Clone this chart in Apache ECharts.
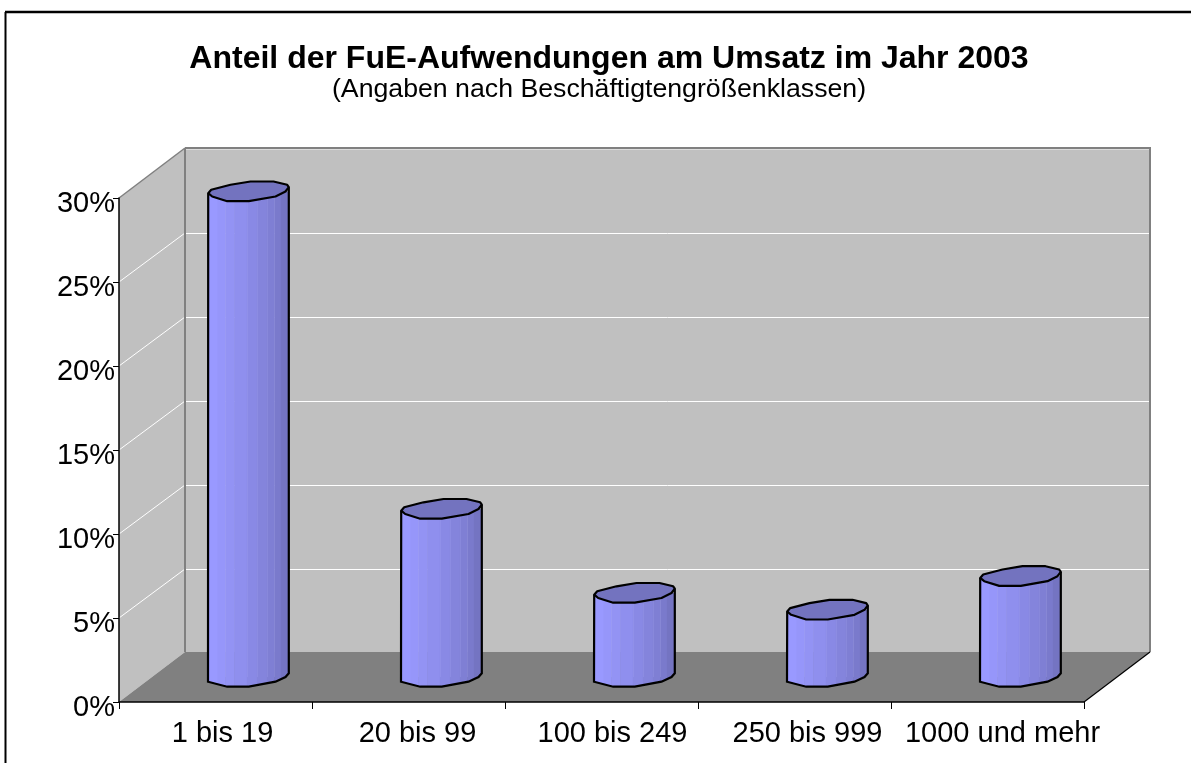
<!DOCTYPE html>
<html>
<head>
<meta charset="utf-8">
<style>html,body{margin:0;padding:0;background:#fff}#c{width:1191px;height:763px}</style>
<script src="https://cdn.jsdelivr.net/npm/echarts@6/dist/echarts.min.js"></script>
</head>
<body>
<div id="c"></div>
<script>
const titleText = 'Anteil der FuE-Aufwendungen am Umsatz im Jahr 2003';
const subtitleText = '(Angaben nach Beschäftigtengrößenklassen)';
const categories = ['1 bis 19', '20 bis 99', '100 bis 249', '250 bis 999', '1000 und mehr'];
const shareValues = [28.9, 10, 5, 4, 6];
const valueTicks = [5, 10, 15, 20, 25];

const font = '"Liberation Sans", Arial, sans-serif';
const DEPTH = [66, -50];
const Y_MAX = 30;

// Cylinder facet geometry, relative to the cylinder's width (80.5px wide reference)
const STRIP_EDGES = [0, 9.3, 17, 26, 38.6, 48.6, 58.6, 66, 72.6, 80.5];
const STRIP_COLORS = ['#9999ff', '#9696fa', '#9393f4', '#8f8fee', '#8989e5', '#8484dc', '#7f7fd4', '#7a7acc', '#7474c2'];
const HIGHLIGHT_EDGES = [2, 4, 5, 6, 7];
const TOP_RING = [[-40.3,1.7],[-37.3,-1.7],[-18,-6.7],[2,-10],[25,-10],[38.7,-6.7],[40.3,-4.3],[37,0],[27,5],[0.3,9.7],[-21.3,9.7],[-36.3,5]];
const BOTTOM_FRONT = [[-40.5,4.7],[-21.3,9.7],[0.3,9.7],[27,4.7],[37,0],[40.3,-3.7]];

const chart = echarts.init(document.getElementById('c'), null, {renderer: 'canvas'});

function renderWalls(params, api) {
  const bl = api.coord([0, 0]);
  const band = api.size([1, 0])[0];
  const L = bl[0] - band / 2;
  const R = L + band * categories.length;
  const B = bl[1];
  const T = api.coord([0, Y_MAX])[1];
  const dx = DEPTH[0], dy = DEPTH[1];
  const kids = [];
  const poly = (pts, fill) => kids.push({type: 'polygon', shape: {points: pts}, style: {fill: fill}});
  const line = (x1, y1, x2, y2, color, w) => kids.push({type: 'line', shape: {x1, y1, x2, y2}, style: {stroke: color, lineWidth: w}});
  poly([[L + dx, T + dy], [R + dx, T + dy], [R + dx, B + dy], [L + dx, B + dy]], '#c0c0c0');
  poly([[L, T], [L + dx, T + dy], [L + dx, B + dy], [L, B]], '#c0c0c0');
  poly([[L, B], [L + dx, B + dy], [R + dx, B + dy], [R, B]], '#808080');
  valueTicks.forEach(v => {
    const y = api.coord([0, v])[1];
    line(L, y, L + dx, y + dy + 1, '#ffffff', 1);
    line(L + dx, y + dy + 1.5, R + dx, y + dy + 1.5, '#ffffff', 1);
  });
  line(L, T, L + dx, T + dy, '#808080', 1.5);
  line(L + dx, T + dy, R + dx + 1, T + dy, '#808080', 2);
  line(L + dx, T + dy + 1.5, R + dx - 1, T + dy + 1.5, '#dcdcdc', 1);
  line(L + dx, T + dy, L + dx, B + dy, '#808080', 2);
  line(R + dx, T + dy, R + dx, B + dy, '#808080', 2);
  line(R, B, R + dx, B + dy, '#000000', 1.2);
  return {type: 'group', children: kids};
}

function renderCylinder(params, api) {
  const cat = api.value(0), val = api.value(1);
  const base = api.coord([cat, 0]);
  const top = api.coord([cat, val]);
  const cx = base[0] + DEPTH[0] / 2;
  const by = base[1] + DEPTH[1] / 2;
  const ty = top[1] + DEPTH[1] / 2;
  const xl = cx - 40.3;
  const kids = [];
  const bottomAt = x => {
    for (let i = 0; i < BOTTOM_FRONT.length - 1; i++) {
      const a = BOTTOM_FRONT[i], b = BOTTOM_FRONT[i + 1];
      if (x <= b[0] || i === BOTTOM_FRONT.length - 2) {
        return by + a[1] + (b[1] - a[1]) * (x - a[0]) / (b[0] - a[0]);
      }
    }
  };
  STRIP_COLORS.forEach((color, i) => {
    const a = xl + STRIP_EDGES[i], b = xl + STRIP_EDGES[i + 1];
    const pts = [[a, ty], [b + 0.5, ty]];
    const nodes = BOTTOM_FRONT.map(p => cx + p[0]).filter(x => x > a && x < b).reverse();
    pts.push([b + 0.5, bottomAt(b - cx)]);
    nodes.forEach(x => pts.push([x, bottomAt(x - cx)]));
    pts.push([a, bottomAt(a - cx)]);
    kids.push({type: 'polygon', shape: {points: pts}, style: {fill: color}});
  });
  HIGHLIGHT_EDGES.forEach(i => {
    const x = Math.round(xl + STRIP_EDGES[i]) + 0.5;
    kids.push({type: 'line', shape: {x1: x, y1: ty, x2: x, y2: by}, style: {stroke: '#b4b4ff', lineWidth: 1, opacity: 0.18}});
  });
  const outline = [[cx + TOP_RING[0][0], ty + TOP_RING[0][1]]]
    .concat(BOTTOM_FRONT.map(p => [cx + p[0], by + p[1]]))
    .concat([[cx + TOP_RING[6][0], ty + TOP_RING[6][1]]]);
  kids.push({type: 'polyline', shape: {points: outline}, style: {stroke: '#000', lineWidth: 2.2, fill: null}});
  kids.push({type: 'polygon', shape: {points: TOP_RING.map(p => [cx + p[0], ty + p[1]])},
    style: {fill: '#7373bf', stroke: '#000', lineWidth: 2.2, lineJoin: 'round'}});
  return {type: 'group', children: kids};
}

chart.setOption({
  animation: false,
  backgroundColor: '#ffffff',
  title: [
    {text: titleText, left: 604, top: 38, textAlign: 'center',
     textStyle: {fontFamily: font, fontSize: 32, fontWeight: 'bold', color: '#000'}},
    {text: subtitleText, left: 594, top: 71, textAlign: 'center',
     textStyle: {fontFamily: font, fontSize: 26.7, fontWeight: 'normal', color: '#000'}}
  ],
  grid: [
    {left: 119, top: 198, width: 965, height: 504},
    {left: 125, top: 198, width: 975, height: 504}
  ],
  xAxis: [
    {type: 'category', gridIndex: 0, data: categories, z: 5,
     axisLine: {lineStyle: {color: '#000', width: 1.5}},
     axisTick: {show: true, length: 7, lineStyle: {color: '#000', width: 1}},
     axisLabel: {show: false}},
    {type: 'category', gridIndex: 1, data: categories, z: 5,
     axisLine: {show: false}, axisTick: {show: false},
     axisLabel: {show: true, interval: 0, margin: 17, hideOverlap: false, fontFamily: font, fontSize: 29, color: '#000'}}
  ],
  yAxis: [
    {type: 'value', gridIndex: 0, min: 0, max: Y_MAX, interval: 5, z: 5,
     splitLine: {show: false},
     axisLine: {show: true, lineStyle: {color: '#000', width: 1.5}},
     axisTick: {show: true, length: 6, lineStyle: {color: '#000', width: 1}},
     axisLabel: {
       formatter: v => '{s|' + v + '%}', margin: 4,
       rich: {s: {padding: [11, 0, 0, 0], fontFamily: font, fontSize: 29, color: '#000'}},
       fontFamily: font, fontSize: 29, color: '#000'}},
    {type: 'value', gridIndex: 1, min: 0, max: Y_MAX, interval: 5, show: false}
  ],
  series: [
    {type: 'custom', name: 'Wände', xAxisIndex: 0, yAxisIndex: 0, z: 1, silent: true,
     renderItem: renderWalls, data: [[0, 0]], clip: false},
    {type: 'custom', name: 'FuE-Anteil', xAxisIndex: 0, yAxisIndex: 0, z: 3,
     renderItem: renderCylinder, data: shareValues.map((v, i) => [i, v]), clip: false}
  ],
  graphic: [
    {type: 'line', shape: {x1: 5, y1: 12, x2: 1191, y2: 12}, style: {stroke: '#000', lineWidth: 2.5}},
    {type: 'line', shape: {x1: 5.5, y1: 12, x2: 5.5, y2: 763}, style: {stroke: '#000', lineWidth: 2}}
  ]
});
</script>
</body>
</html>
